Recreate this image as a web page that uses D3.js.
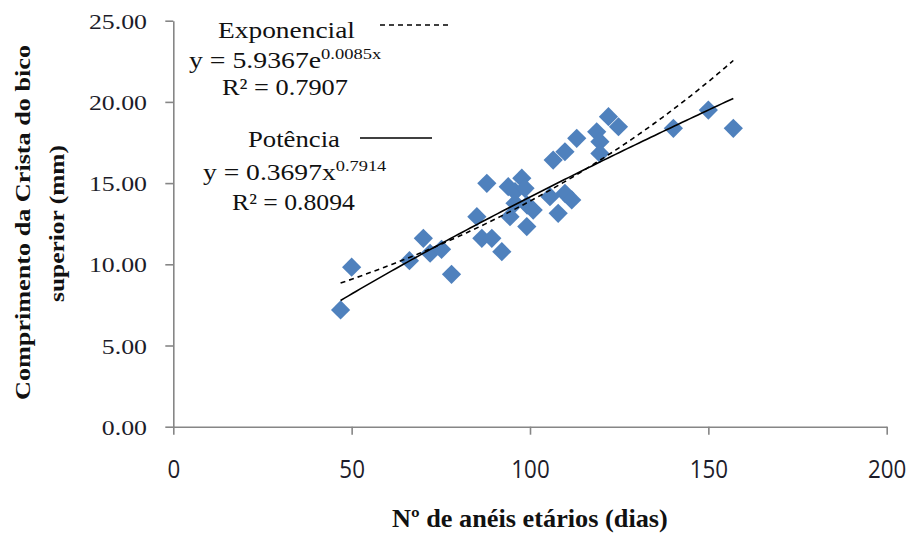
<!DOCTYPE html>
<html>
<head>
<meta charset="utf-8">
<script src="https://cdn.jsdelivr.net/npm/d3@7/dist/d3.min.js"></script>
<style>
  html, body { margin: 0; padding: 0; background: #fff; }
  svg { display: block; }
</style>
</head>
<body>
<svg id="chart" width="911" height="535"></svg>
<script>
// Age rings (days) vs upper beak crest length (mm)
const ages = [46.9, 50.0, 66.2, 70.1, 72.0, 75.2, 78.0, 85.1, 86.5, 87.9,
              89.3, 92.1, 93.9, 94.4, 95.8, 95.8, 97.7, 98.6, 99.1, 99.2,
              100.9, 105.6, 106.5, 107.9, 109.8, 109.8, 111.7, 113.1, 118.7, 119.6,
              119.6, 122.0, 124.8, 140.2, 150.0, 157.0];
const lengths = [7.19, 9.82, 10.22, 11.6, 10.68, 10.92, 9.38, 12.93, 11.6, 14.99,
                 11.6, 10.78, 14.78, 12.93, 13.76, 14.47, 15.3, 14.68, 12.32, 13.65,
                 13.34, 14.16, 16.42, 13.14, 14.37, 16.93, 13.96, 17.76, 18.16, 17.55,
                 16.83, 19.09, 18.47, 18.37, 19.5, 18.37];

const xTicks = [0, 50, 100, 150, 200];
const yTicks = [0, 5, 10, 15, 20, 25];

// Fitted trend models
const expA = 5.9367, expB = 0.0085;
const powA = 0.3697, powB = 0.7914;

const svg = d3.select("#chart");
const x = d3.scaleLinear().domain([0, 200]).range([173.3, 886.7]);
const y = d3.scaleLinear().domain([0, 25]).range([426.7, 20.7]);

const axisColor = "#868686";
const serif = "'Liberation Serif', 'Times New Roman', serif";
const sans = "'Open Sans', 'Liberation Sans', sans-serif";

// Stretch/position a text node so its box spans [x0, x1] horizontally
function fitX(t, x0, x1, baseline) {
  const b = t.node().getBBox();
  const s = (x1 - x0) / b.width;
  t.attr("transform", `translate(${x0 - b.x * s},${baseline}) scale(${s},1)`);
}

// Y axis
const yAxis = svg.append("g")
  .attr("transform", `translate(${x(0)},0)`)
  .call(d3.axisLeft(y).tickValues(yTicks).tickFormat(d3.format(".2f"))
        .tickSize(8).tickSizeOuter(0));
yAxis.select(".domain").attr("stroke", axisColor).attr("stroke-width", 1.6);
yAxis.selectAll(".tick line").attr("stroke", axisColor).attr("stroke-width", 1.6);
yAxis.selectAll(".tick text")
  .attr("x", 0).attr("dy", null)
  .attr("font-family", serif).attr("font-size", 20.5).attr("fill", "#1c1c2a")
  .attr("text-anchor", "end")
  .attr("transform", `translate(${147 - x(0)},7.6) scale(1.26,1)`);

// X axis
const xAxis = svg.append("g")
  .attr("transform", `translate(0,${y(0)})`)
  .call(d3.axisBottom(x).tickValues(xTicks).tickFormat(d3.format("d"))
        .tickSize(8).tickSizeOuter(0));
xAxis.select(".domain").attr("stroke", axisColor).attr("stroke-width", 1.6);
xAxis.selectAll(".tick line").attr("stroke", axisColor).attr("stroke-width", 1.6);
xAxis.selectAll(".tick text")
  .attr("y", 0).attr("dy", null)
  .attr("font-family", sans).attr("font-size", 26).attr("fill", "#1c1c2a")
  .attr("text-anchor", "middle")
  .attr("transform", "translate(0,51) scale(0.86,1)");

// Data markers (diamonds)
const diamond = d3.symbol().type(d3.symbolSquare).size(185);
svg.append("g").selectAll("path")
  .data(ages.map((a, i) => [a, lengths[i]]))
  .join("path")
  .attr("d", diamond)
  .attr("transform", d => `translate(${x(d[0])},${y(d[1])}) rotate(45)`)
  .attr("fill", "#4F81BD");

// Trendlines over the observed range
const xmin = d3.min(ages), xmax = d3.max(ages);
const xs = d3.range(0, 101).map(i => xmin + (xmax - xmin) * i / 100);
const line = d3.line().x(d => x(d[0])).y(d => y(d[1]));

svg.append("path")
  .datum(xs.map(v => [v, expA * Math.exp(expB * v)]))
  .attr("d", line).attr("fill", "none")
  .attr("stroke", "#000").attr("stroke-width", 1.6)
  .attr("stroke-dasharray", "5,4");

svg.append("path")
  .datum(xs.map(v => [v, powA * Math.pow(v, powB)]))
  .attr("d", line).attr("fill", "none")
  .attr("stroke", "#000").attr("stroke-width", 1.6);

// Trendline labels
const lab = svg.append("g").attr("font-family", serif).attr("fill", "#111");

function label(parts, x0, x1, baseline) {
  const t = lab.append("text").attr("font-size", 22.5);
  parts.forEach(p => {
    const ts = t.append("tspan").text(p.t);
    if (p.sup) ts.attr("font-size", 15).attr("dy", -9);
  });
  fitX(t, x0, x1, baseline);
  return t;
}

label([{ t: "Exponencial" }], 218, 355, 38);
label([{ t: "y = 5.9367e" }, { t: "0.0085x", sup: true }], 189, 382, 68);
label([{ t: "R² = 0.7907" }], 222, 348, 95);
label([{ t: "Potência" }], 248, 340, 147);
label([{ t: "y = 0.3697x" }, { t: "0.7914", sup: true }], 203, 387, 180);
label([{ t: "R² = 0.8094" }], 232, 355, 210);

svg.append("line").attr("x1", 380).attr("x2", 452).attr("y1", 25).attr("y2", 25)
  .attr("stroke", "#000").attr("stroke-width", 1.3).attr("stroke-dasharray", "5,4");
svg.append("line").attr("x1", 360).attr("x2", 432).attr("y1", 138).attr("y2", 138)
  .attr("stroke", "#000").attr("stroke-width", 1.3);

// Axis titles
const xt = svg.append("text")
  .attr("font-family", serif).attr("font-weight", "bold").attr("font-size", 25)
  .attr("fill", "#111").text("Nº de anéis etários (dias)");
fitX(xt, 392, 668, 527);

function yTitle(txt, baselineX, y0, y1) {
  return svg.append("text")
    .attr("font-family", serif).attr("font-weight", "bold").attr("font-size", 22)
    .attr("fill", "#111").attr("text-anchor", "middle")
    .attr("textLength", y1 - y0).attr("lengthAdjust", "spacingAndGlyphs")
    .attr("transform", `translate(${baselineX},${(y0 + y1) / 2}) rotate(-90)`)
    .text(txt);
}
yTitle("Comprimento da Crista do bico", 30, 45, 400);
yTitle("superior (mm)", 64, 145, 302);
</script>
</body>
</html>
